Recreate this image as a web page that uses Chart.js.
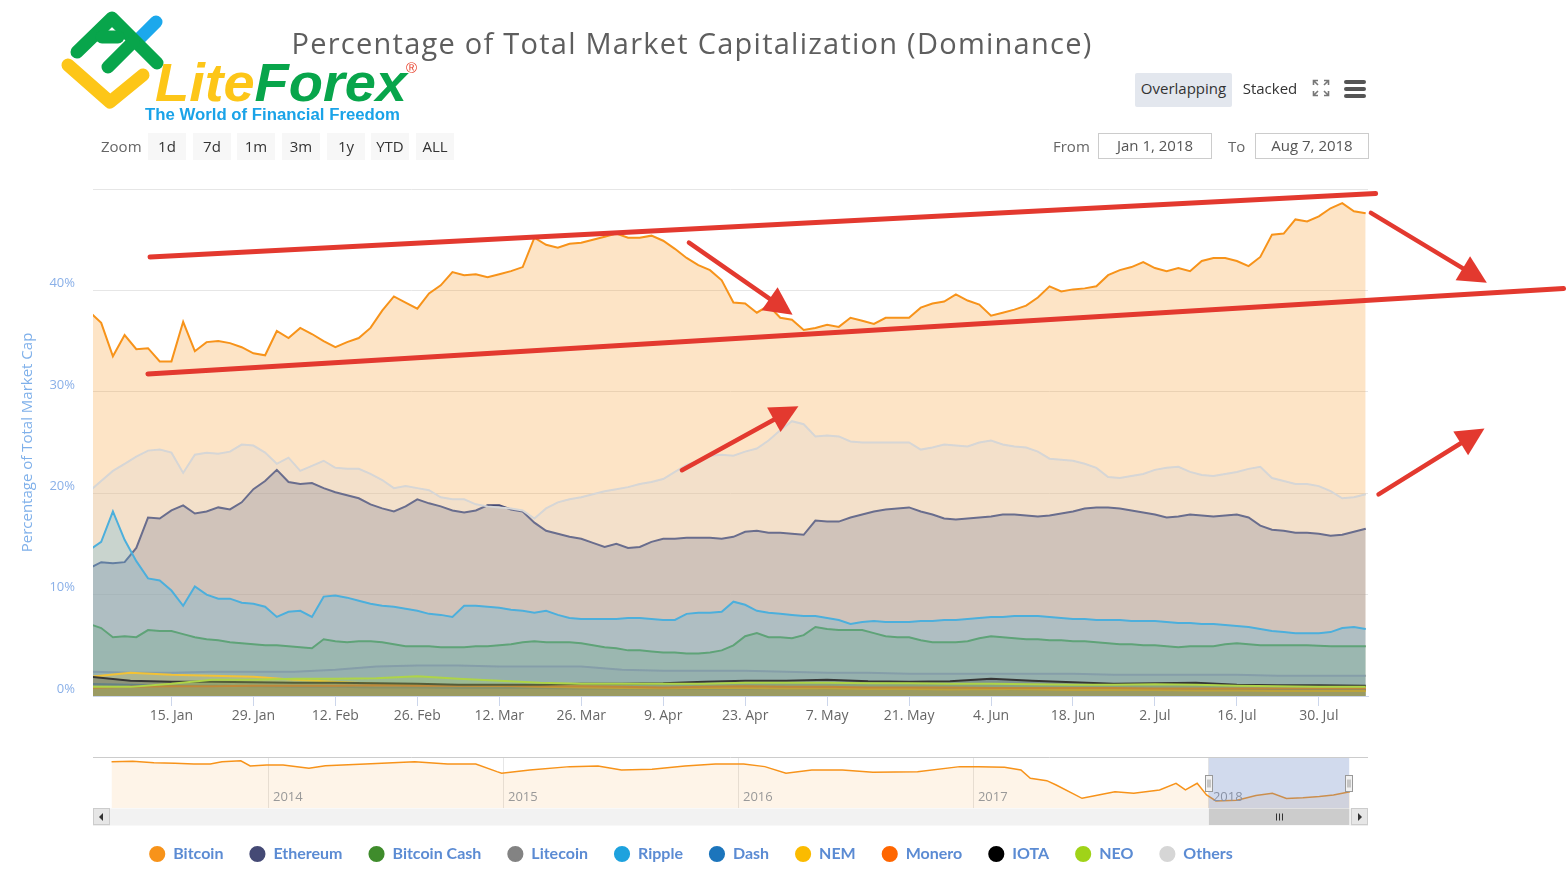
<!DOCTYPE html>
<html>
<head>
<meta charset="utf-8">
<title>Percentage of Total Market Capitalization (Dominance)</title>
<script src="https://cdn.jsdelivr.net/npm/chart.js@4.4.1/dist/chart.umd.min.js"></script>
<style>
  html, body { margin: 0; padding: 0; background: #fff; }
  body { width: 1566px; height: 875px; position: relative; overflow: hidden; font-family: 'Open Sans', sans-serif; }
  .abs { position: absolute; }
  #mainWrap { left: 0; top: 0; width: 1566px; height: 872px; z-index: 1; }
  #navWrap { left: 93px; top: 756px; width: 1275px; height: 71px; z-index: 3; }
  .ui { z-index: 2; }
  .title { left: 0; width: 1384px; top: 23px; text-align: center; font-size: 29px; letter-spacing: 1.25px; line-height: 40px; color: #5e5e5e; white-space: nowrap; }
  .btn { top: 133px; width: 38px; height: 27px; line-height: 26px; background: #f7f7f7; color: #333; font-size: 15px; text-align: center; }
  .lbl { color: #666; font-size: 15px; line-height: 26px; top: 133px; }
  .inp { top: 133px; width: 112px; height: 24px; line-height: 23px; border: 1px solid #cccccc; color: #555; font-size: 15px; text-align: center; background: #fff; }
  .tog { top: 73px; height: 34px; line-height: 30px; font-size: 15px; color: #333; text-align: center; }
</style>
</head>
<body>

<div class="abs" id="mainWrap"><canvas id="main" width="1566" height="872"></canvas></div>
<div class="abs" id="navWrap"><canvas id="nav" width="1275" height="71"></canvas></div>

<svg class="abs ui" style="left:0;top:0" width="440" height="130" viewBox="0 0 440 130">
  <g fill="none" stroke-linecap="round" stroke-linejoin="round" stroke-width="13">
    <polyline points="140,38 156,22" stroke="#1ba8ec"/>
    <polyline points="68,65 110,102 143,75" stroke="#fdc618"/>
    <polyline points="77,52 112,18 157,63" stroke="#08a54b"/>
    <polyline points="108,67 133,42" stroke="#08a54b"/>
    <polyline points="102,37 118,37" stroke="#08a54b"/>
  </g>
  <text x="155" y="101" font-family="Liberation Sans, Arial, sans-serif" font-weight="bold" font-style="italic" font-size="54" textLength="252" lengthAdjust="spacingAndGlyphs"><tspan fill="#fdc618">Lite</tspan><tspan fill="#08a54b">Forex</tspan></text>
  <text x="406" y="73" font-family="Liberation Sans, Arial, sans-serif" font-size="15" fill="#e8412c">®</text>
  <text x="145" y="120" font-family="Liberation Sans, Arial, sans-serif" font-weight="bold" font-size="16" fill="#1aa3e8" textLength="255" lengthAdjust="spacingAndGlyphs">The World of Financial Freedom</text>
</svg>

<div class="abs ui title">Percentage of Total Market Capitalization (Dominance)</div>

<div class="abs ui tog" style="left:1135px;width:97px;background:#e3e7ee;border-radius:2px;">Overlapping</div>
<div class="abs ui tog" style="left:1238px;width:64px;">Stacked</div>
<svg class="abs ui" style="left:1312px;top:79px" width="18" height="18" viewBox="0 0 18 18">
  <g stroke="#777" stroke-width="1.6" fill="none">
    <path d="M1.5 6 V1.5 H6 M1.5 1.5 L6 6"/>
    <path d="M12 1.5 H16.5 V6 M16.5 1.5 L12 6"/>
    <path d="M1.5 12 V16.5 H6 M1.5 16.5 L6 12"/>
    <path d="M12 16.5 H16.5 V12 M16.5 16.5 L12 12"/>
  </g>
</svg>
<svg class="abs ui" style="left:1342px;top:78px" width="26" height="22" viewBox="0 0 26 22">
  <g stroke="#555" stroke-width="4" stroke-linecap="round">
    <line x1="4" y1="4" x2="22" y2="4"/>
    <line x1="4" y1="11" x2="22" y2="11"/>
    <line x1="4" y1="18" x2="22" y2="18"/>
  </g>
</svg>

<div class="abs ui lbl" style="left:101px;">Zoom</div>
<div class="abs ui btn" style="left:148px;">1d</div>
<div class="abs ui btn" style="left:193px;">7d</div>
<div class="abs ui btn" style="left:237px;">1m</div>
<div class="abs ui btn" style="left:282px;">3m</div>
<div class="abs ui btn" style="left:327px;">1y</div>
<div class="abs ui btn" style="left:371px;">YTD</div>
<div class="abs ui btn" style="left:416px;">ALL</div>

<div class="abs ui lbl" style="left:1053px;">From</div>
<div class="abs ui inp" style="left:1098px;">Jan 1, 2018</div>
<div class="abs ui lbl" style="left:1228px;">To</div>
<div class="abs ui inp" style="left:1255px;">Aug 7, 2018</div>

<script>
// ---------- DATA ----------
// day index counted from 1 Jan 2018
const days2 = Array.from({ length: 110 }, (_, i) => i * 2);
const days7 = [0,7,14,21,28,35,42,49,56,63,70,77,84,91,98,105,112,119,126,133,140,147,154,161,168,175,182,189,196,203,210,218];

const bitcoin = [
  37.9,36.8,33.5,35.6,34.2,34.3,33.0,33.0,36.9,34.0,
  34.9,35.0,34.8,34.4,33.8,33.6,36.0,35.3,36.3,35.7,
  35.0,34.4,34.9,35.3,36.3,38.0,39.4,38.8,38.2,39.7,
  40.5,41.8,41.5,41.6,41.3,41.6,41.9,42.3,45.2,44.5,
  44.2,44.6,44.7,45.0,45.3,45.6,45.2,45.2,45.4,44.9,
  44.1,43.2,42.5,42.0,41.0,38.8,38.7,37.8,38.5,37.3,
  37.1,36.1,36.3,36.6,36.4,37.3,37.0,36.7,37.3,37.3,
  37.3,38.3,38.7,38.9,39.6,39.0,38.6,37.5,37.8,38.1,
  38.5,39.3,40.4,39.9,40.1,40.2,40.4,41.5,42.0,42.3,
  42.8,42.2,41.9,42.2,41.9,42.9,43.2,43.2,42.9,42.4,
  43.3,45.5,45.6,47.0,46.8,47.3,48.1,48.6,47.8,47.6
];
const ethereum = [
  12.6,13.2,13.1,13.2,14.6,17.6,17.5,18.3,18.8,18.0,
  18.2,18.6,18.4,19.1,20.4,21.2,22.3,21.1,20.9,21.0,
  20.5,20.1,19.8,19.5,18.9,18.5,18.2,18.7,19.4,19.0,
  18.7,18.3,18.1,18.3,18.8,18.8,18.4,18.2,17.1,16.3,
  16.0,15.7,15.5,15.1,14.7,15.0,14.6,14.7,15.2,15.5,
  15.5,15.6,15.6,15.6,15.5,15.7,16.2,16.3,16.1,16.1,
  16.0,15.9,17.3,17.2,17.2,17.6,17.9,18.2,18.4,18.5,
  18.6,18.2,17.9,17.5,17.4,17.5,17.6,17.7,17.9,17.9,
  17.8,17.7,17.8,18.0,18.2,18.5,18.6,18.6,18.5,18.3,
  18.1,17.9,17.6,17.7,17.9,17.8,17.7,17.8,17.9,17.6,
  16.8,16.4,16.3,16.1,16.1,16.0,15.8,15.9,16.2,16.5
];
const bitcoinCash = [
  7.1,6.7,5.8,5.9,5.8,6.5,6.4,6.4,6.1,5.8,
  5.6,5.5,5.3,5.2,5.1,5.0,5.0,4.9,4.8,4.7,
  5.6,5.4,5.3,5.4,5.4,5.3,5.1,4.9,4.9,4.9,
  4.8,4.8,4.8,4.9,4.9,5.0,5.1,5.3,5.4,5.3,
  5.3,5.3,5.2,5.0,4.8,4.7,4.5,4.5,4.4,4.3,
  4.3,4.2,4.2,4.3,4.5,5.0,5.9,6.2,5.8,5.8,
  5.7,6.0,6.8,6.6,6.5,6.5,6.5,6.2,5.9,5.8,
  5.8,5.5,5.3,5.3,5.3,5.4,5.7,5.9,5.8,5.7,
  5.6,5.6,5.5,5.5,5.4,5.4,5.3,5.2,5.1,5.1,
  5.0,5.0,4.9,4.8,4.9,4.9,4.9,5.1,5.2,5.1,
  5.0,5.0,5.0,5.0,5.0,4.95,4.9,4.9,4.9,4.9
];
const ripple = [
  14.4,15.2,18.2,15.4,13.3,11.6,11.4,10.4,8.9,10.8,
  10.0,9.6,9.6,9.2,9.1,8.8,7.8,8.3,8.4,7.8,
  9.8,9.9,9.7,9.4,9.1,8.9,8.8,8.6,8.4,8.1,
  8.0,7.8,8.9,8.9,8.8,8.7,8.5,8.4,8.2,8.4,
  8.0,7.7,7.6,7.6,7.6,7.6,7.7,7.7,7.6,7.5,
  7.5,8.1,8.2,8.2,8.3,9.3,9.0,8.4,8.2,8.1,
  8.0,7.9,7.9,7.7,7.5,7.1,7.3,7.4,7.3,7.3,
  7.3,7.4,7.4,7.5,7.5,7.6,7.7,7.8,7.8,7.9,
  7.9,7.9,7.8,7.7,7.6,7.6,7.5,7.5,7.5,7.4,
  7.4,7.4,7.3,7.2,7.2,7.1,7.1,7.0,6.9,6.8,
  6.6,6.4,6.3,6.2,6.2,6.2,6.3,6.7,6.8,6.6
];
const others = [
  20.2,21.2,22.2,22.9,23.6,24.2,24.3,24.0,22.0,23.8,
  24.0,23.9,24.1,24.8,24.7,24.0,22.9,23.5,22.2,22.7,
  23.2,22.5,22.4,22.4,21.9,21.3,20.5,20.7,20.5,20.3,
  19.6,19.4,19.4,18.9,18.7,18.6,18.5,18.3,17.5,18.5,
  19.1,19.4,19.6,19.9,20.2,20.4,20.6,20.9,21.1,21.4,
  22.1,22.8,23.2,23.7,23.8,23.7,24.1,24.4,25.2,26.2,
  27.1,26.8,25.6,25.7,25.6,25.1,25.0,25.0,25.0,25.0,
  25.0,24.3,24.5,24.8,24.7,24.6,25.0,25.2,24.8,24.6,
  24.5,24.1,23.4,23.3,23.2,22.9,22.5,21.6,21.5,21.7,
  21.9,22.3,22.5,22.6,22.1,21.8,21.7,21.9,22.1,22.4,
  22.6,21.5,21.2,20.9,20.9,20.7,20.2,19.5,19.6,19.9
];
const litecoin = [2.4,2.3,2.3,2.4,2.4,2.4,2.6,2.9,3.0,3.0,2.9,2.9,2.9,2.6,2.5,2.5,2.5,2.4,2.3,2.3,2.2,2.2,2.2,2.2,2.2,2.1,2.1,2.1,2.1,2.0,2.0,2.0];
const dash = [1.2,1.1,1.0,1.0,0.95,0.9,0.9,0.85,0.85,0.8,0.8,0.8,0.75,0.75,0.7,0.75,0.75,0.75,0.7,0.7,0.7,0.7,0.7,0.65,0.65,0.65,0.6,0.6,0.6,0.6,0.6,0.6];
const nem = [1.9,2.3,2.1,2.0,1.9,1.6,1.4,1.2,1.1,1.05,1.0,0.9,0.85,0.8,0.75,0.8,0.8,0.75,0.75,0.7,0.7,0.65,0.7,0.65,0.6,0.6,0.6,0.55,0.55,0.5,0.5,0.5];
const monero = [0.8,0.9,0.95,0.95,1.0,1.0,1.0,1.05,1.0,1.0,1.0,0.95,0.95,0.9,0.85,0.9,0.95,0.9,0.9,0.85,0.85,0.85,0.8,0.8,0.8,0.8,0.75,0.75,0.75,0.75,0.75,0.75];
const iota = [1.9,1.5,1.4,1.4,1.35,1.3,1.3,1.25,1.2,1.1,1.1,1.1,1.2,1.2,1.25,1.4,1.5,1.5,1.6,1.45,1.4,1.45,1.7,1.5,1.35,1.2,1.25,1.3,1.1,1.05,1.05,1.0];
const neo = [0.9,0.9,1.2,1.6,1.6,1.7,1.7,1.75,1.95,1.7,1.5,1.3,1.2,1.2,1.2,1.2,1.3,1.3,1.3,1.25,1.25,1.2,1.2,1.15,1.1,1.1,1.15,1.1,1.0,0.95,0.9,0.9];

const seriesNames  = ['Bitcoin','Ethereum','Bitcoin Cash','Litecoin','Ripple','Dash','NEM','Monero','IOTA','NEO','Others'];
const seriesColors = ['#f7931a','#454a75','#3f8c2c','#838383','#1ea2de','#1c75bc','#fbbb00','#ff6600','#000000','#a0d318','#d6d6d6'];
const seriesDays   = [days2, days2, days2, days7, days2, days7, days7, days7, days7, days7, days2];
const seriesValues = [bitcoin, ethereum, bitcoinCash, litecoin, ripple, dash, nem, monero, iota, neo, others];

const xTickDays   = [14,28,42,56,70,84,98,112,126,140,154,168,182,196,210];
const xTickLabels = ['15. Jan','29. Jan','12. Feb','26. Feb','12. Mar','26. Mar','9. Apr','23. Apr','7. May','21. May','4. Jun','18. Jun','2. Jul','16. Jul','30. Jul'];
const yTickValues = [0,10,20,30,40,50];

// navigator: whole history of Bitcoin dominance (fractional years)
const navYears = [2013.33,2013.42,2013.51,2013.6,2013.68,2013.75,2013.8,2013.88,2013.92,2013.99,
  2014.06,2014.17,2014.24,2014.41,2014.62,2014.76,2014.88,2014.97,2014.99,2015.11,
  2015.28,2015.4,2015.5,2015.63,2015.77,2015.9,2016.02,2016.11,2016.2,2016.31,
  2016.44,2016.57,2016.76,2016.94,2017.02,2017.13,2017.2,2017.24,2017.31,2017.35,
  2017.46,2017.53,2017.6,2017.68,2017.79,2017.86,2017.9,2017.95,2017.99,2018.03,
  2018.12,2018.2,2018.27,2018.33,2018.4,2018.47,2018.53,2018.6];
const navBitcoin = [94.7,95.5,93.1,92.2,91.1,91.1,94.7,96.0,88.0,89.5,
  89.5,84.3,88.4,91.1,94.7,91.1,91.1,79.0,76.5,81.7,
  86.9,88.0,81.7,82.8,88.0,91.1,91.1,86.9,76.5,81.7,
  81.7,78.1,79.0,86.9,86.9,85.9,81.7,68.6,64.9,58.1,
  37.2,42.4,47.6,45.0,50.3,60.8,50.3,60.8,42.4,33.0,
  34.0,41.5,45.0,37.0,38.0,40.0,42.5,47.6];
const navYearTicks  = [2014,2015,2016,2017,2018];
const navYearLabels = ['2014','2015','2016','2017','2018'];
const navSelection  = [2018.0, 2018.597];

// hand-drawn annotations, in data units [day, %, day, %]
const trendLines  = [[10.35,43.29,219.7,49.56],[9.98,31.76,251.8,40.18]];
const trendArrows = [[102.4,44.72,120.1,37.6],[101.2,22.27,121.1,28.57],[218.9,47.64,238.7,40.75],[220.2,19.88,238.3,26.38]];

// ---------- helpers ----------
function rgba(hex, a) {
  const n = parseInt(hex.slice(1), 16);
  return `rgba(${(n >> 16) & 255},${(n >> 8) & 255},${n & 255},${a})`;
}

const annotationPlugin = {
  id: 'annotations',
  afterDraw(chart) {
    const { ctx, scales: { x, y } } = chart;
    ctx.save();
    ctx.strokeStyle = '#e3392f';
    ctx.fillStyle = '#e3392f';
    ctx.lineWidth = 5;
    ctx.lineCap = 'round';
    for (const [d1, v1, d2, v2] of trendLines) {
      ctx.beginPath();
      ctx.moveTo(x.getPixelForValue(d1), y.getPixelForValue(v1));
      ctx.lineTo(x.getPixelForValue(d2), y.getPixelForValue(v2));
      ctx.stroke();
    }
    ctx.lineWidth = 4.5;
    for (const [d1, v1, d2, v2] of trendArrows) {
      const x1 = x.getPixelForValue(d1), y1 = y.getPixelForValue(v1);
      const x2 = x.getPixelForValue(d2), y2 = y.getPixelForValue(v2);
      const ang = Math.atan2(y2 - y1, x2 - x1);
      const hl = 28, hw = 14;
      const bx = x2 - hl * Math.cos(ang), by = y2 - hl * Math.sin(ang);
      ctx.beginPath();
      ctx.moveTo(x1, y1);
      ctx.lineTo(bx + 2 * Math.cos(ang), by + 2 * Math.sin(ang));
      ctx.stroke();
      ctx.beginPath();
      ctx.moveTo(x2, y2);
      ctx.lineTo(bx + hw * Math.sin(ang), by - hw * Math.cos(ang));
      ctx.lineTo(bx - hw * Math.sin(ang), by + hw * Math.cos(ang));
      ctx.closePath();
      ctx.fill();
    }
    ctx.restore();
  }
};

// ---------- main chart ----------
const N = seriesNames.length;
new Chart(document.getElementById('main'), {
  type: 'line',
  data: {
    datasets: seriesNames.map((name, i) => ({
      label: name,
      data: seriesDays[i].map((d, j) => ({ x: d, y: seriesValues[i][j] })),
      borderColor: seriesColors[i],
      backgroundColor: rgba(seriesColors[i], 0.25),
      pointBackgroundColor: seriesColors[i],
      pointBorderColor: seriesColors[i],
      borderWidth: 2,
      pointRadius: 0,
      pointHoverRadius: 0,
      tension: 0,
      fill: 'origin',
      order: N - i
    }))
  },
  options: {
    responsive: false,
    animation: false,
    devicePixelRatio: 1,
    events: [],
    layout: { padding: { left: 14, right: 198, top: 189, bottom: 0 } },
    plugins: {
      tooltip: { enabled: false },
      legend: {
        position: 'bottom',
        labels: {
          usePointStyle: true,
          pointStyle: 'circle',
          boxWidth: 16,
          boxHeight: 10,
          padding: 26,
          color: '#5b8bd3',
          font: { family: 'Lato', size: 16, weight: 'bold' },
          sort: (a, b) => a.datasetIndex - b.datasetIndex
        }
      }
    },
    scales: {
      x: {
        type: 'linear',
        min: 0.6,
        max: 218.4,
        afterBuildTicks: s => { s.ticks = xTickDays.map(v => ({ value: v })); },
        afterFit: s => { s.height = 124; },
        ticks: {
          autoSkip: false, maxRotation: 0, minRotation: 0,
          color: '#666', padding: 2,
          font: { family: 'Open Sans', size: 14 },
          callback: (v, i) => xTickLabels[i]
        },
        grid: { drawOnChartArea: false, drawTicks: true, tickLength: 10, color: '#ccd6eb' },
        border: { color: '#ccd6eb' }
      },
      y: {
        min: 0,
        max: 50,
        afterBuildTicks: s => { s.ticks = yTickValues.map(v => ({ value: v })); },
        afterFit: s => { s.width = 79; },
        ticks: {
          color: '#8ab0e8', padding: 18, labelOffset: -7,
          font: { family: 'Open Sans', size: 13 },
          callback: v => (v === 50 ? '' : v + '%')
        },
        grid: { color: '#e6e6e6', drawTicks: false },
        border: { display: false },
        title: {
          display: true,
          text: 'Percentage of Total Market Cap',
          color: '#7fb0ea',
          font: { family: 'Open Sans', size: 15 },
          padding: { top: 5, bottom: 0 }
        }
      }
    }
  },
  plugins: [annotationPlugin]
});

// ---------- navigator ----------
const navigatorPlugin = {
  id: 'navigatorParts',
  afterDatasetsDraw(chart) {
    const { ctx, chartArea: a, scales: { x } } = chart;
    const x0 = x.getPixelForValue(navSelection[0]);
    const x1 = x.getPixelForValue(navSelection[1]);
    ctx.save();
    // year labels (placed with the scale)
    ctx.fillStyle = '#999999';
    ctx.font = '13px "Open Sans"';
    ctx.textAlign = 'left';
    ctx.textBaseline = 'middle';
    navYearTicks.forEach((v, i) => {
      ctx.fillText(navYearLabels[i], x.getPixelForValue(v) + 4, a.bottom - 11);
    });
    // selected range mask
    ctx.fillStyle = 'rgba(102,133,194,0.3)';
    ctx.fillRect(x0, a.top, x1 - x0, a.bottom - a.top);
    ctx.strokeStyle = '#cccccc';
    ctx.lineWidth = 1;
    ctx.beginPath();
    ctx.moveTo(a.left, a.top + 0.5);
    ctx.lineTo(a.right, a.top + 0.5);
    ctx.stroke();
    // handles
    const cy = (a.top + a.bottom) / 2;
    for (const hx of [x0, x1]) {
      const rx = Math.round(hx) - 3.5, ry = Math.round(cy - 8) + 0.5;
      ctx.fillStyle = '#f2f2f2';
      ctx.strokeStyle = '#999999';
      ctx.fillRect(rx, ry, 7, 16);
      ctx.strokeRect(rx, ry, 7, 16);
      ctx.beginPath();
      ctx.moveTo(rx + 2.5, ry + 4); ctx.lineTo(rx + 2.5, ry + 12);
      ctx.moveTo(rx + 4.5, ry + 4); ctx.lineTo(rx + 4.5, ry + 12);
      ctx.stroke();
    }
    // scrollbar
    const sy = a.bottom + 0.5, sh = 17;
    ctx.fillStyle = '#f2f2f2';
    ctx.fillRect(a.left, sy, a.right - a.left, sh);
    ctx.fillStyle = '#e6e6e6';
    ctx.strokeStyle = '#cccccc';
    ctx.fillRect(a.left, sy, 17, sh);
    ctx.strokeRect(a.left + 0.5, sy, 16, sh - 1);
    ctx.fillRect(a.right - 17, sy, 17, sh);
    ctx.strokeRect(a.right - 16.5, sy, 16, sh - 1);
    ctx.fillStyle = '#333';
    ctx.beginPath();
    ctx.moveTo(a.left + 6, sy + sh / 2); ctx.lineTo(a.left + 10, sy + sh / 2 - 4); ctx.lineTo(a.left + 10, sy + sh / 2 + 4);
    ctx.closePath(); ctx.fill();
    ctx.beginPath();
    ctx.moveTo(a.right - 6, sy + sh / 2); ctx.lineTo(a.right - 10, sy + sh / 2 - 4); ctx.lineTo(a.right - 10, sy + sh / 2 + 4);
    ctx.closePath(); ctx.fill();
    ctx.fillStyle = '#cccccc';
    ctx.fillRect(x0, sy, Math.min(x1, a.right - 17) - x0, sh - 0.5);
    const gx = (x0 + Math.min(x1, a.right - 17)) / 2;
    ctx.strokeStyle = '#333';
    ctx.beginPath();
    for (const dx of [-3, 0, 3]) {
      ctx.moveTo(Math.round(gx + dx) + 0.5, sy + 5);
      ctx.lineTo(Math.round(gx + dx) + 0.5, sy + 12);
    }
    ctx.stroke();
    ctx.restore();
  }
};

new Chart(document.getElementById('nav'), {
  type: 'line',
  data: {
    datasets: [{
      data: navYears.map((yr, i) => ({ x: yr, y: navBitcoin[i] })),
      borderColor: '#f7931a',
      backgroundColor: 'rgba(247,147,26,0.1)',
      borderWidth: 1.5,
      pointRadius: 0,
      tension: 0,
      fill: 'start'
    }]
  },
  options: {
    responsive: false,
    animation: false,
    devicePixelRatio: 1,
    events: [],
    layout: { padding: { left: 0, right: 0, top: 1, bottom: 19 } },
    plugins: { legend: { display: false }, tooltip: { enabled: false } },
    scales: {
      x: {
        type: 'linear',
        min: 2013.251,
        max: 2018.677,
        afterBuildTicks: s => { s.ticks = navYearTicks.map(v => ({ value: v })); },
        afterFit: s => { s.height = 0; },
        ticks: { display: false },
        grid: { color: '#e6e6e6', drawTicks: false },
        border: { display: false }
      },
      y: { display: false, min: 22, max: 102 }
    }
  },
  plugins: [navigatorPlugin]
});
</script>
</body>
</html>
